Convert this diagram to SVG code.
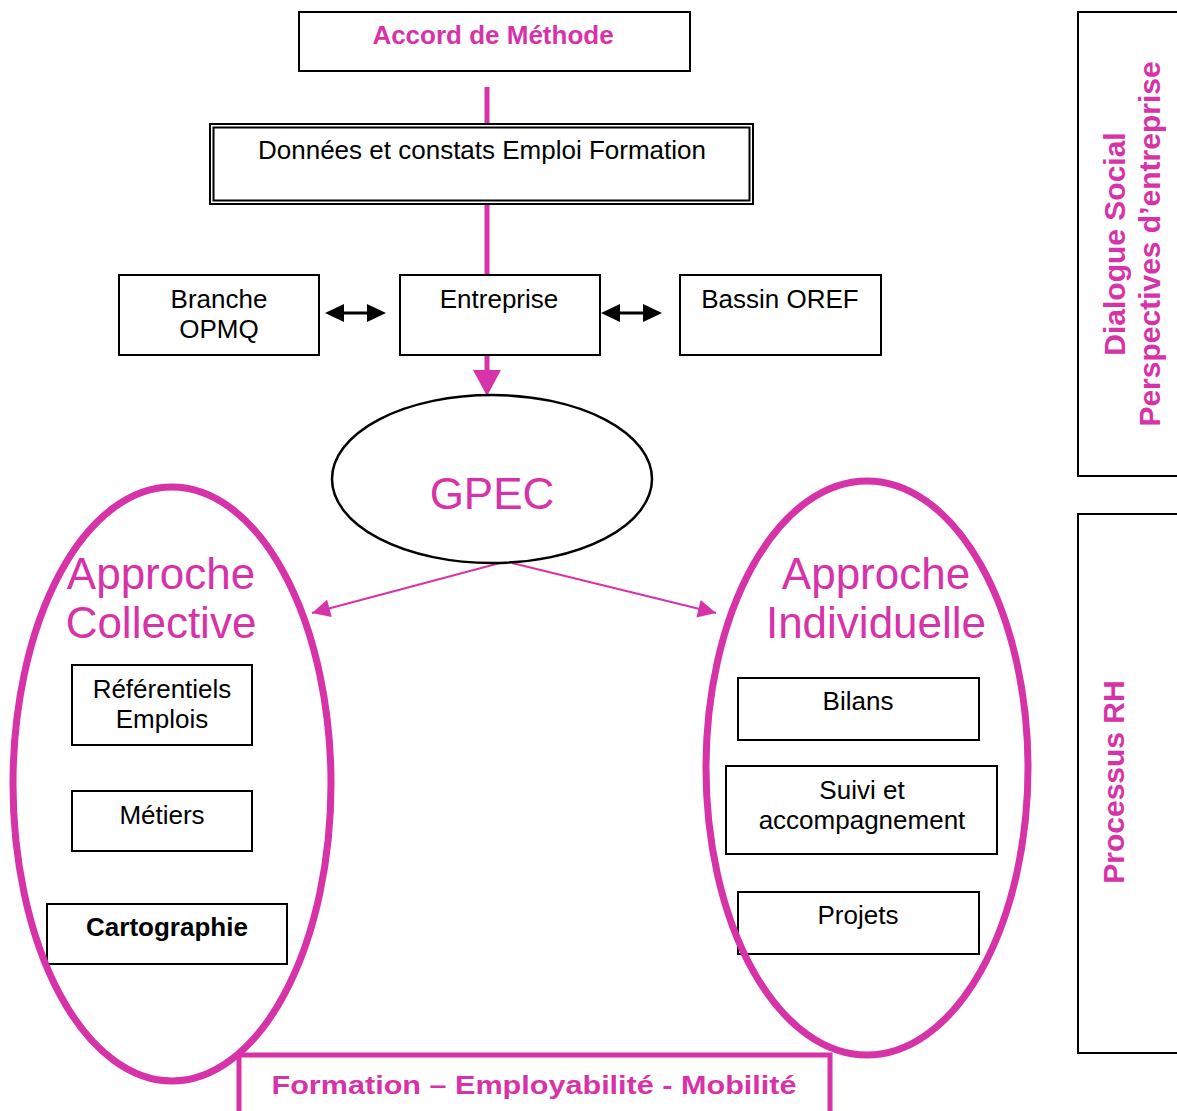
<svg xmlns="http://www.w3.org/2000/svg" width="1177" height="1111" viewBox="0 0 1177 1111">
<style>
.box{fill:none;stroke:#000;stroke-width:2}
.t{font-family:"Liberation Sans",Arial,sans-serif;font-size:26px;fill:#000;text-anchor:middle}
.b{font-weight:bold}
.p{fill:#D633A9}
.big{font-size:44px}
.v{font-family:"Liberation Sans",Arial,sans-serif;font-size:30px;font-weight:bold;fill:#D633A9;text-anchor:middle}
.pl{stroke:#D633A9;fill:none}
</style>
<defs>
<marker id="pa" viewBox="0 0 10 10" refX="10" refY="5" markerWidth="20" markerHeight="18" orient="auto" markerUnits="userSpaceOnUse"><path d="M0,0 L10,5 L0,10 z" fill="#D633A9"/></marker>
</defs>
<rect width="1177" height="1111" fill="#fff"/>

<g id="connectors">
<line class="pl" x1="487" y1="87" x2="487" y2="124" stroke-width="5"/>
<line class="pl" x1="487" y1="204" x2="487" y2="275" stroke-width="5"/>
<line class="pl" x1="487" y1="355" x2="487" y2="372" stroke-width="5"/>
<path d="M473,370 L501,370 L487,396 z" fill="#D633A9"/>
<line x1="330" y1="313" x2="381" y2="313" stroke="#000" stroke-width="3"/>
<path d="M325,313 L344,304 L344,322 z M386,313 L367,304 L367,322 z" fill="#000"/>
<line x1="606" y1="313" x2="657" y2="313" stroke="#000" stroke-width="3"/>
<path d="M601,313 L620,304 L620,322 z M662,313 L643,304 L643,322 z" fill="#000"/>
<line class="pl" x1="500" y1="563" x2="312" y2="613" stroke-width="2" marker-end="url(#pa)"/>
<line class="pl" x1="512" y1="563" x2="716" y2="613" stroke-width="2" marker-end="url(#pa)"/>
</g>

<g id="accord">
<rect class="box" x="299" y="12" width="391" height="59"/>
<text class="t b p" x="493" y="44" font-size="25.5">Accord de Méthode</text>
</g>

<g id="donnees">
<rect class="box" x="210" y="124" width="543" height="80" stroke-width="1.5"/>
<rect class="box" x="213.5" y="127.5" width="536" height="73" stroke-width="1.5"/>
<text class="t" x="482" y="159" font-size="26.5">Données et constats Emploi Formation</text>
</g>

<g id="branche">
<rect class="box" x="119" y="275" width="200" height="80"/>
<text class="t" x="219" y="308">Branche</text>
<text class="t" x="219" y="338">OPMQ</text>
</g>

<g id="entreprise">
<rect class="box" x="400" y="275" width="200" height="80"/>
<text class="t" x="499" y="308">Entreprise</text>
</g>

<g id="bassin">
<rect class="box" x="680" y="275" width="201" height="80"/>
<text class="t" x="780" y="308">Bassin OREF</text>
</g>

<g id="gpec">
<ellipse cx="492" cy="479" rx="160" ry="84" fill="none" stroke="#000" stroke-width="2.5"/>
<text class="t p big" x="492" y="509">GPEC</text>
</g>

<g id="referentiels">
<rect class="box" x="72" y="665" width="180" height="80"/>
<text class="t" x="162" y="698">Référentiels</text>
<text class="t" x="162" y="728">Emplois</text>
</g>

<g id="metiers">
<rect class="box" x="72" y="791" width="180" height="60"/>
<text class="t" x="162" y="824">Métiers</text>
</g>

<g id="cartographie">
<rect class="box" x="47" y="904" width="240" height="60"/>
<text class="t b" x="167" y="936">Cartographie</text>
</g>

<g id="collective">
<ellipse cx="172" cy="784" rx="159" ry="297" fill="none" stroke="#D633A9" stroke-width="7"/>
<text class="t p big" x="161" y="589">Approche</text>
<text class="t p big" x="161" y="638">Collective</text>
</g>

<g id="bilans">
<rect class="box" x="738" y="678" width="241" height="62"/>
<text class="t" x="858" y="710">Bilans</text>
</g>

<g id="suivi">
<rect class="box" x="726" y="766" width="271" height="88"/>
<text class="t" x="862" y="799">Suivi et</text>
<text class="t" x="862" y="829">accompagnement</text>
</g>

<g id="projets">
<rect class="box" x="738" y="892" width="241" height="62"/>
<text class="t" x="858" y="924">Projets</text>
</g>

<g id="individuelle">
<ellipse cx="867" cy="768" rx="161" ry="287" fill="none" stroke="#D633A9" stroke-width="7"/>
<text class="t p big" x="876" y="589">Approche</text>
<text class="t p big" x="876" y="638">Individuelle</text>
</g>

<g id="formation">
<rect x="239" y="1055" width="591" height="70" fill="#fff" stroke="#D633A9" stroke-width="5"/>
<text class="t b p" x="534" y="1094" font-size="29" textLength="525" lengthAdjust="spacingAndGlyphs">Formation – Employabilité - Mobilité</text>
</g>

<g id="dialogue">
<rect class="box" x="1078" y="12" width="110" height="464"/>
<text class="v" transform="translate(1125,244) rotate(-90)">Dialogue Social</text>
<text class="v" transform="translate(1160,244) rotate(-90)">Perspectives d’entreprise</text>
</g>

<g id="processus">
<rect class="box" x="1078" y="514" width="110" height="539"/>
<text class="v" transform="translate(1124,782) rotate(-90)">Processus RH</text>
</g>
</svg>
